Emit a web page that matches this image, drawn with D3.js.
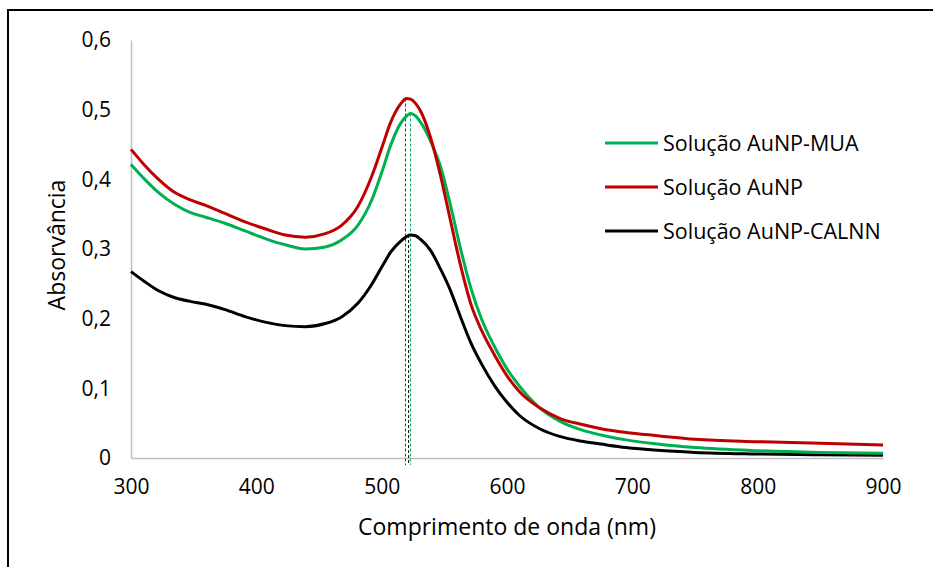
<!DOCTYPE html>
<html>
<head>
<meta charset="utf-8">
<script src="https://cdn.jsdelivr.net/npm/d3@7"></script>
<style>
  body { margin: 0; background: #fff; }
  text { font-family: "Open Sans", "Noto Sans", sans-serif; fill: #000; }
</style>
</head>
<body>
<div class="chart"></div>
<script>
// wavelengths (nm) shared by all three spectra
const wavelengths = [300, 311, 322, 335, 348, 359, 375, 391, 407, 423, 439, 455, 468, 481, 492, 501, 507, 515, 520, 523, 527, 531, 539, 547, 555, 563, 571, 580, 590, 600, 610, 626, 642, 660, 675, 695, 720, 750, 800, 850, 900];

const absMUA = [0.4215, 0.400, 0.381, 0.364, 0.352, 0.346, 0.337, 0.326, 0.315, 0.306, 0.300, 0.303, 0.313, 0.334, 0.370, 0.415, 0.448, 0.480, 0.491, 0.4945, 0.491, 0.482, 0.455, 0.418, 0.362, 0.300, 0.245, 0.198, 0.160, 0.128, 0.103, 0.072, 0.053, 0.040, 0.033, 0.026, 0.020, 0.015, 0.0105, 0.008, 0.0067];

const absAuNP = [0.443, 0.420, 0.400, 0.381, 0.370, 0.363, 0.351, 0.339, 0.329, 0.320, 0.317, 0.322, 0.334, 0.361, 0.404, 0.450, 0.481, 0.508, 0.516, 0.515, 0.509, 0.498, 0.460, 0.405, 0.340, 0.276, 0.222, 0.182, 0.148, 0.118, 0.095, 0.072, 0.057, 0.048, 0.042, 0.0365, 0.032, 0.027, 0.0235, 0.021, 0.0187];

const absCALNN = [0.2675, 0.253, 0.240, 0.230, 0.2245, 0.221, 0.213, 0.203, 0.195, 0.190, 0.1885, 0.193, 0.2025, 0.222, 0.249, 0.277, 0.295, 0.311, 0.318, 0.320, 0.319, 0.314, 0.298, 0.271, 0.240, 0.202, 0.166, 0.134, 0.104, 0.080, 0.061, 0.042, 0.031, 0.024, 0.020, 0.015, 0.011, 0.008, 0.0058, 0.0045, 0.004];

const seriesNames = ['Solução AuNP-MUA', 'Solução AuNP', 'Solução AuNP-CALNN'];
const seriesColors = ['#00b050', '#c00000', '#000000'];
const peakWavelengths = [523, 519, 521.5];
const peakValues = [0.4945, 0.516, 0.320];

const xTicks = [300, 400, 500, 600, 700, 800, 900];
const yTicks = [0, 0.1, 0.2, 0.3, 0.4, 0.5, 0.6];

const w = 933;
const h = 567;
const margin = { top: 40, right: 50, bottom: 109, left: 131 };

const xScale = d3.scaleLinear()
                 .domain([300, 900])
                 .range([margin.left, w - margin.right]);

const yScale = d3.scaleLinear()
                 .domain([0, 0.6])
                 .range([h - margin.bottom, margin.top]);

const svg = d3.select('.chart')
              .append('svg')
              .attr('width', w)
              .attr('height', h);

// outer frame
svg.append('rect')
   .attr('x', 8).attr('y', 10)
   .attr('width', 960).attr('height', 620)
   .attr('fill', 'none')
   .attr('stroke', '#000')
   .attr('stroke-width', 2);

const comma = d3.formatLocale({ decimal: ',', thousands: '.', grouping: [3], currency: ['', ''] });
const yFormat = d => d === 0 ? '0' : comma.format('.1f')(d);

const xAxis = d3.axisBottom(xScale)
                .tickValues(xTicks)
                .tickSize(0)
                .tickPadding(21);

const yAxis = d3.axisLeft(yScale)
                .tickValues(yTicks)
                .tickFormat(yFormat)
                .tickSize(0)
                .tickPadding(20);

const gx = svg.append('g')
   .attr('transform', `translate(0, ${h - margin.bottom})`)
   .call(xAxis);

const gy = svg.append('g')
   .attr('transform', `translate(${margin.left}, 0)`)
   .call(yAxis);

[gx, gy].forEach(g => {
  g.select('.domain').attr('stroke', '#bfbfbf').attr('stroke-width', 1.5);
  g.selectAll('text').style('font-size', '21px').style('font-family', '"Open Sans", sans-serif');
});

// dashed markers at the peaks
[1, 2, 0].forEach(i => {
  svg.append('line')
     .attr('x1', xScale(peakWavelengths[i]))
     .attr('x2', xScale(peakWavelengths[i]))
     .attr('y1', yScale(peakValues[i]))
     .attr('y2', yScale(-0.01))
     .attr('stroke', seriesColors[i])
     .attr('stroke-width', 1)
     .attr('stroke-dasharray', '3,2');
});

const line = d3.line()
               .x(d => xScale(d[0]))
               .y(d => yScale(d[1]))
               .curve(d3.curveMonotoneX);

const allSeries = [absMUA, absAuNP, absCALNN];

[2, 0, 1].forEach(i => {
  svg.append('path')
     .datum(wavelengths.map((x, j) => [x, allSeries[i][j]]))
     .attr('fill', 'none')
     .attr('stroke', seriesColors[i])
     .attr('stroke-width', 3)
     .attr('stroke-linejoin', 'round')
     .attr('d', line);
});

// legend
const legendY = [143, 187, 231];
seriesNames.forEach((name, i) => {
  svg.append('line')
     .attr('x1', 605).attr('x2', 658)
     .attr('y1', legendY[i]).attr('y2', legendY[i])
     .attr('stroke', seriesColors[i])
     .attr('stroke-width', 3);
  svg.append('text')
     .attr('x', 663)
     .attr('y', legendY[i])
     .attr('dy', '0.35em')
     .style('font-size', '21.5px')
     .text(name);
});

svg.append('text')
   .attr('x', (margin.left + w - margin.right) / 2)
   .attr('y', 527)
   .attr('dy', '0.35em')
   .style('text-anchor', 'middle')
   .style('font-size', '23px')
   .text('Comprimento de onda (nm)');

svg.append('text')
   .attr('transform', 'rotate(-90)')
   .attr('x', -245)
   .attr('y', 57)
   .attr('dy', '0.35em')
   .style('text-anchor', 'middle')
   .style('font-size', '23px')
   .text('Absorvância');
</script>
</body>
</html>
